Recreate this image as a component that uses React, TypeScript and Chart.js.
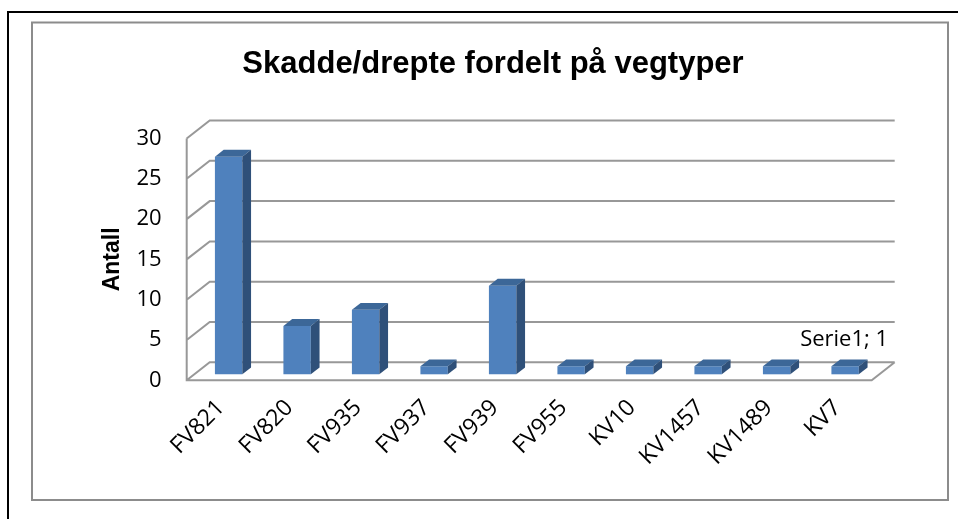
import React, { useEffect, useRef } from "react";
import { Chart, registerables } from "chart.js";

Chart.register(...registerables);

// ---- data ----
const categories = ["FV821", "FV820", "FV935", "FV937", "FV939", "FV955", "KV10", "KV1457", "KV1489", "KV7"];
const values = [27, 6, 8, 1, 11, 1, 1, 1, 1, 1];
const yMin = 0;
const yMax = 30;
const yStep = 5;
const seriesName = "Serie1";
const titleText = "Skadde/drepte fordelt på vegtyper";
const yAxisTitle = "Antall";
const labelledIndex = [9];

// ---- styling ----
const CANVAS_W = 986;
const CANVAS_H = 519;
const DEPTH = { dx: 23, dy: -18 };
const BAR_FRONT = 1 / 3;
const BAR_DEPTH = 0.38;
const GRID = "#989898";
const TICK_FONT = "'Open Sans', sans-serif";
const BOLD_FONT = "'Liberation Sans', Arial, sans-serif";

const threeD = {
  id: "threeD",
  beforeDraw(chart: any) {
    const { ctx, chartArea: a, scales } = chart;
    const y = scales.y;
    ctx.save();
    ctx.fillStyle = "#fff";
    ctx.fillRect(0, 0, chart.width, chart.height);
    // outer black frame
    ctx.strokeStyle = "#000";
    ctx.lineWidth = 2;
    ctx.beginPath();
    ctx.moveTo(8, 700);
    ctx.lineTo(8, 12);
    ctx.lineTo(1200, 12);
    ctx.stroke();
    // gray chart frame
    ctx.strokeStyle = "#8c8c8c";
    ctx.lineWidth = 2;
    ctx.strokeRect(32, 22.5, 916, 477.5);
    // walls
    const { dx, dy } = DEPTH;
    ctx.strokeStyle = GRID;
    ctx.lineWidth = 2;
    ctx.beginPath();
    for (let v = yMin; v <= yMax; v += yStep) {
      const py = y.getPixelForValue(v);
      ctx.moveTo(a.left, py);
      ctx.lineTo(a.left + dx, py + dy);
      ctx.lineTo(a.right + dx, py + dy);
    }
    ctx.moveTo(a.left, y.getPixelForValue(yMax));
    ctx.lineTo(a.left, a.bottom);
    ctx.lineTo(a.right, a.bottom);
    ctx.lineTo(a.right + dx, a.bottom + dy);
    ctx.stroke();
    ctx.restore();
  },
  beforeDatasetsDraw(chart: any) {
    const ctx = chart.ctx;
    ctx.save();
    ctx.translate(DEPTH.dx * BAR_FRONT, DEPTH.dy * BAR_FRONT);
  },
  afterDatasetsDraw(chart: any) {
    const ctx = chart.ctx;
    const meta = chart.getDatasetMeta(0);
    const bdx = DEPTH.dx * BAR_DEPTH;
    const bdy = DEPTH.dy * BAR_DEPTH;
    meta.data.forEach((el: any, i: number) => {
      const { x, y, base, width } = el.getProps(["x", "y", "base", "width"], true);
      const l = x - width / 2;
      const r = x + width / 2;
      // top face
      ctx.fillStyle = "#3c6798";
      ctx.beginPath();
      ctx.moveTo(l, y);
      ctx.lineTo(l + bdx, y + bdy);
      ctx.lineTo(r + bdx, y + bdy);
      ctx.lineTo(r, y);
      ctx.closePath();
      ctx.fill();
      // side face
      ctx.fillStyle = "#2f5079";
      ctx.beginPath();
      ctx.moveTo(r, y);
      ctx.lineTo(r + bdx, y + bdy);
      ctx.lineTo(r + bdx, base + bdy);
      ctx.lineTo(r, base);
      ctx.closePath();
      ctx.fill();
      if (labelledIndex.includes(i)) {
        ctx.fillStyle = "#000";
        ctx.font = `22px ${TICK_FONT}`;
        ctx.textAlign = "center";
        ctx.textBaseline = "middle";
        ctx.fillText(`${seriesName}; ${values[i]}`, x - 1, y - 27);
      }
    });
    ctx.restore();
  },
};

export default function App() {
  const ref = useRef<HTMLCanvasElement>(null);
  useEffect(() => {
    if (!ref.current) return;
    const chart = new Chart(ref.current, {
      type: "bar",
      data: {
        labels: categories,
        datasets: [
          {
            label: seriesName,
            data: values,
            backgroundColor: "#4f81bd",
            borderWidth: 0,
            barPercentage: 0.4,
            categoryPercentage: 1,
            clip: false as any,
          },
        ],
      },
      options: {
        responsive: false,
        animation: false,
        devicePixelRatio: 1,
        layout: { padding: 0 },
        plugins: {
          legend: { display: false },
          tooltip: { enabled: false },
          title: {
            display: true,
            text: titleText,
            color: "#000",
            font: { family: BOLD_FONT, size: 31, weight: "bold", lineHeight: 1.2 },
            padding: { top: 45.4, bottom: 55.9 },
          },
        },
        scales: {
          x: {
            grid: { display: false, drawTicks: false },
            border: { display: false },
            ticks: {
              autoSkip: false,
              maxRotation: 45,
              minRotation: 45,
              color: "#000",
              font: { family: TICK_FONT, size: 23 },
              padding: 14,
            },
            afterFit: (s: any) => {
              s.height = 138.7;
            },
          },
          y: {
            min: yMin,
            max: yMax,
            grid: { display: false, drawTicks: false },
            border: { display: false },
            ticks: { stepSize: yStep, color: "#000", font: { family: TICK_FONT, size: 22 }, padding: 25 },
            title: {
              display: true,
              text: yAxisTitle,
              color: "#000",
              font: { family: BOLD_FONT, size: 23, weight: "bold", lineHeight: 1.2 },
              padding: { top: 98.7, bottom: 0 },
            },
            afterFit: (s: any) => {
              s.width = 186.7;
            },
          },
          y2: {
            position: "right",
            display: true,
            grid: { display: false, drawTicks: false },
            border: { display: false },
            ticks: { display: false },
            afterFit: (s: any) => {
              s.width = 114.3;
            },
          },
        },
      } as any,
      plugins: [threeD],
    });
    return () => chart.destroy();
  }, []);
  return (
    <div
      style={{
        position: "fixed",
        left: 0,
        top: 0,
        width: 958,
        height: 519,
        overflow: "hidden",
        background: "#fff",
      }}
    >
      <canvas ref={ref} width={CANVAS_W} height={CANVAS_H} style={{ display: "block" }} />
    </div>
  );
}
